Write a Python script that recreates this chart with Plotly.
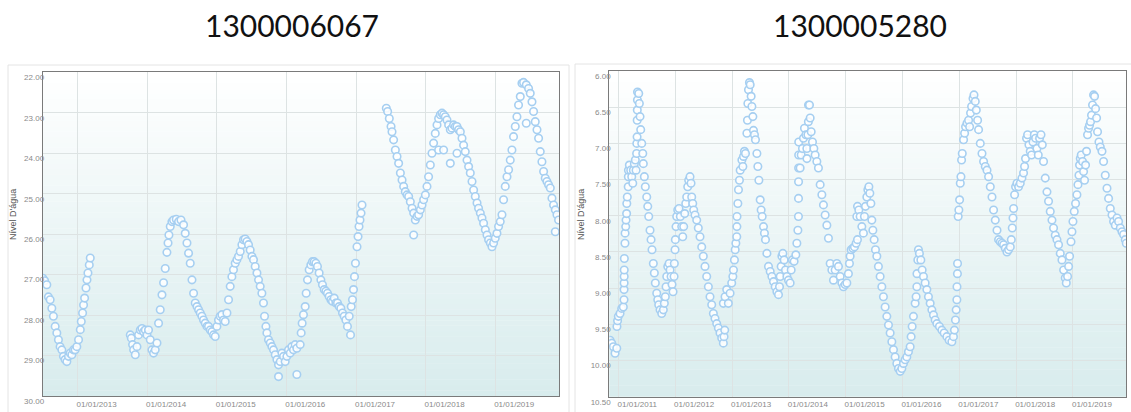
import numpy as np
import pandas as pd
import plotly.graph_objects as go

# ---------------- data (decimal years, water level) ----------------
title_left = "1300006067"
title_right = "1300005280"
y_title = "Nível D'água"

t_6067 = [
    2012.503, 2012.529, 2012.560, 2012.583, 2012.608, 2012.632, 2012.655, 2012.680, 2012.704, 2012.727,
    2012.751, 2012.776, 2012.799, 2012.823, 2012.848, 2012.871, 2012.895, 2012.920, 2012.943, 2012.967,
    2012.991, 2013.014, 2013.039, 2013.053, 2013.072, 2013.086, 2013.101, 2013.121, 2013.135, 2013.149,
    2013.168, 2013.182,
    2013.757, 2013.772, 2013.790, 2013.805, 2013.829, 2013.853, 2013.876, 2013.901, 2013.925, 2013.948,
    2013.973, 2013.997, 2014.020, 2014.045, 2014.069, 2014.092, 2014.116, 2014.141, 2014.164, 2014.188,
    2014.213, 2014.236, 2014.260, 2014.284, 2014.300, 2014.313, 2014.332, 2014.356, 2014.379, 2014.418,
    2014.451, 2014.486, 2014.523, 2014.547, 2014.572, 2014.595, 2014.619, 2014.644, 2014.667, 2014.691,
    2014.716, 2014.739, 2014.763, 2014.787, 2014.810, 2014.835, 2014.859, 2014.882, 2014.907, 2014.931,
    2014.954, 2014.978, 2015.003, 2015.026, 2015.050, 2015.075, 2015.098, 2015.122, 2015.147, 2015.170,
    2015.194, 2015.218, 2015.241, 2015.266, 2015.290, 2015.313, 2015.338, 2015.362, 2015.385, 2015.409,
    2015.434, 2015.457, 2015.481, 2015.506, 2015.529, 2015.553, 2015.578, 2015.601, 2015.625, 2015.649,
    2015.672, 2015.687, 2015.707, 2015.721, 2015.744, 2015.769, 2015.793, 2015.816, 2015.841, 2015.865,
    2015.888, 2015.912, 2015.937, 2015.960, 2015.984, 2016.009, 2016.032, 2016.056, 2016.080, 2016.103,
    2016.128, 2016.152, 2016.200, 2016.214, 2016.228, 2016.247, 2016.272, 2016.286, 2016.305, 2016.329,
    2016.353, 2016.376, 2016.401, 2016.425, 2016.448, 2016.472, 2016.497, 2016.520, 2016.545, 2016.569,
    2016.592, 2016.616, 2016.641, 2016.664, 2016.688, 2016.713, 2016.736, 2016.760, 2016.784, 2016.808,
    2016.832, 2016.856, 2016.879, 2016.904, 2016.923, 2016.933, 2016.951, 2016.966, 2016.980, 2016.994,
    2017.014, 2017.029, 2017.043, 2017.057, 2017.072, 2017.086,
    2017.435, 2017.454, 2017.478, 2017.503, 2017.517, 2017.540, 2017.565, 2017.589, 2017.612, 2017.637,
    2017.661, 2017.684, 2017.708, 2017.733, 2017.756, 2017.780, 2017.805, 2017.828, 2017.852, 2017.876,
    2017.899, 2017.924, 2017.948, 2017.971, 2017.996, 2018.020, 2018.043, 2018.068, 2018.092, 2018.115,
    2018.139, 2018.164, 2018.187, 2018.211, 2018.236, 2018.259, 2018.283, 2018.307, 2018.331, 2018.355,
    2018.379, 2018.402, 2018.427, 2018.451, 2018.474, 2018.499, 2018.523, 2018.546, 2018.570, 2018.595,
    2018.618, 2018.642, 2018.667, 2018.690, 2018.714, 2018.739, 2018.761, 2018.786, 2018.810, 2018.833,
    2018.858, 2018.882, 2018.905, 2018.930, 2018.954, 2018.977, 2019.001, 2019.026, 2019.049, 2019.073,
    2019.098, 2019.121, 2019.145, 2019.170, 2019.193, 2019.217, 2019.241, 2019.264, 2019.289, 2019.313,
    2019.336, 2019.361, 2019.385, 2019.408, 2019.447, 2019.480, 2019.504, 2019.529, 2019.552, 2019.576,
    2019.601, 2019.624, 2019.648, 2019.672, 2019.696, 2019.720, 2019.744, 2019.767, 2019.792, 2019.816,
    2019.839, 2019.864, 2019.888, 2019.911,
    2015.888, 2016.152, 2017.828, 2018.187, 2018.259, 2018.355, 2018.451, 2019.447, 2019.864,
]
v_6067 = [
    27.09, 27.15, 27.25, 27.55, 27.62, 27.83, 28.03, 28.28, 28.44, 28.61,
    28.78, 28.86, 29.02, 29.10, 29.15, 29.02, 28.94, 28.98, 28.86, 28.86,
    28.78, 28.61, 28.36, 28.16, 27.95, 27.75, 27.58, 27.33, 27.13, 26.96,
    26.76, 26.59,
    28.49, 28.57, 28.73, 28.86, 28.98, 28.78, 28.49, 28.37, 28.33, 28.41,
    28.37, 28.49, 28.37, 28.61, 28.86, 28.94, 28.86, 28.69, 28.20, 27.87,
    27.50, 27.20, 26.85, 26.45, 26.22, 26.02, 25.81, 25.69, 25.65, 25.63,
    25.69, 25.65, 25.77, 25.98, 26.22, 26.47, 26.72, 27.13, 27.46, 27.70,
    27.79, 27.87, 27.95, 28.03, 28.12, 28.20, 28.28, 28.28, 28.37, 28.41,
    28.49, 28.53, 28.28, 28.12, 28.03, 27.99, 28.12, 28.16, 27.95, 27.62,
    27.29, 27.05, 26.88, 26.72, 26.63, 26.55, 26.43, 26.26, 26.14, 26.12,
    26.18, 26.26, 26.39, 26.55, 26.63, 26.80, 26.96, 27.13, 27.29, 27.46,
    27.70, 28.03, 28.28, 28.44, 28.61, 28.69, 28.78, 28.86, 28.98, 29.10,
    29.23, 29.15, 28.94, 29.02, 29.15, 29.02, 28.86, 28.94, 28.78, 28.86,
    28.73, 28.82, 28.73, 28.44, 28.20, 27.99, 27.79, 27.46, 27.13, 26.88,
    26.76, 26.68, 26.68, 26.72, 26.80, 26.96, 27.13, 27.25, 27.37, 27.41,
    27.46, 27.54, 27.62, 27.66, 27.58, 27.70, 27.70, 27.79, 27.83, 27.95,
    28.03, 28.12, 28.28, 28.03, 28.49, 27.79, 27.62, 27.37, 27.05, 26.72,
    26.31, 26.06, 25.81, 25.65, 25.48, 25.28,
    22.89, 22.97, 23.14, 23.34, 23.47, 23.67, 23.92, 24.08, 24.25, 24.49,
    24.66, 24.82, 24.95, 25.03, 25.07, 25.20, 25.36, 25.48, 25.65, 25.56,
    25.52, 25.40, 25.28, 25.15, 25.03, 24.82, 24.58, 24.29, 24.00, 23.75,
    23.51, 23.30, 23.14, 23.05, 23.01, 23.05, 23.10, 23.18, 23.30, 23.42,
    23.38, 23.30, 23.34, 23.34, 23.42, 23.47, 23.63, 23.80, 23.96, 24.17,
    24.33, 24.49, 24.70, 24.91, 25.07, 25.23, 25.36, 25.48, 25.60, 25.73,
    25.89, 26.02, 26.14, 26.22, 26.31, 26.22, 26.10, 25.98, 25.81, 25.69,
    25.52, 25.15, 24.82, 24.58, 24.41, 24.17, 23.92, 23.59, 23.34, 23.10,
    22.81, 22.60, 22.27, 22.25, 22.31, 22.40, 22.52, 22.73, 22.97, 23.22,
    23.42, 23.63, 23.96, 24.21, 24.45, 24.62, 24.70, 24.78, 24.86, 25.11,
    25.28, 25.40, 25.52, 25.65,
    29.52, 29.47, 26.02, 23.92, 23.92, 24.25, 24.00, 23.26, 25.94,
]

t_5280 = [
    2010.854, 2010.884, 2010.912, 2010.942, 2010.972, 2010.975, 2010.986, 2011.000, 2011.030, 2011.060,
    2011.088, 2011.100, 2011.101, 2011.102, 2011.103, 2011.104, 2011.106, 2011.117, 2011.119, 2011.130,
    2011.136, 2011.146, 2011.149, 2011.158, 2011.174, 2011.176, 2011.178, 2011.194, 2011.218, 2011.236,
    2011.254, 2011.264, 2011.282, 2011.299, 2011.312, 2011.322, 2011.325, 2011.330, 2011.332, 2011.334,
    2011.336, 2011.338, 2011.359, 2011.370, 2011.382, 2011.394, 2011.412, 2011.430, 2011.440, 2011.458,
    2011.475, 2011.500, 2011.518, 2011.535, 2011.558, 2011.576, 2011.593, 2011.616, 2011.634, 2011.651,
    2011.676, 2011.694, 2011.711, 2011.734, 2011.764, 2011.792, 2011.810, 2011.827, 2011.840, 2011.852,
    2011.870, 2011.893, 2011.910, 2011.928, 2011.945, 2011.963, 2011.981, 2011.986, 2011.998, 2012.004,
    2012.016, 2012.028, 2012.046, 2012.069, 2012.092, 2012.116, 2012.134, 2012.151, 2012.169, 2012.187,
    2012.204, 2012.222, 2012.239, 2012.262, 2012.280, 2012.292, 2012.310, 2012.327, 2012.350, 2012.380,
    2012.408, 2012.438, 2012.468, 2012.496, 2012.526, 2012.556, 2012.585, 2012.614, 2012.644, 2012.673,
    2012.702, 2012.732, 2012.761, 2012.790, 2012.820, 2012.849, 2012.861, 2012.873,
    2012.849, 2012.879, 2012.908, 2012.937, 2012.967, 2012.996, 2013.014, 2013.025, 2013.042, 2013.055,
    2013.067, 2013.083, 2013.085, 2013.087, 2013.102, 2013.113, 2013.130, 2013.143, 2013.173, 2013.190,
    2013.201, 2013.218, 2013.236, 2013.261, 2013.271, 2013.278, 2013.289, 2013.306, 2013.319, 2013.336,
    2013.349, 2013.366, 2013.377, 2013.394, 2013.412, 2013.437, 2013.454, 2013.472, 2013.495, 2013.512,
    2013.530, 2013.553, 2013.570, 2013.588, 2013.613, 2013.641, 2013.671, 2013.701, 2013.729, 2013.759,
    2013.789, 2013.817, 2013.835, 2013.847, 2013.864, 2013.877, 2013.894, 2013.917, 2013.940, 2013.965,
    2013.993, 2014.023, 2014.041, 2014.063, 2014.093, 2014.123, 2014.141, 2014.159, 2014.169, 2014.170,
    2014.171, 2014.172, 2014.173, 2014.174, 2014.199, 2014.217, 2014.240, 2014.257, 2014.275, 2014.299,
    2014.317, 2014.318, 2014.335, 2014.344, 2014.346, 2014.363, 2014.375, 2014.393, 2014.416, 2014.440,
    2014.463, 2014.493, 2014.521, 2014.551, 2014.581, 2014.609, 2014.639, 2014.669, 2014.697, 2014.727,
    2014.757, 2014.785, 2014.815, 2014.845, 2014.873, 2014.903, 2014.933, 2014.961, 2014.991, 2015.021,
    2015.049, 2015.067, 2015.079, 2015.097, 2015.127, 2015.155, 2015.185, 2015.208, 2015.197, 2015.209,
    2015.232, 2015.255, 2015.285, 2015.313, 2015.331, 2015.349, 2015.373, 2015.391, 2015.409, 2015.426,
    2015.444, 2015.461, 2015.479, 2015.502, 2015.525, 2015.549, 2015.577, 2015.607, 2015.637, 2015.665,
    2015.695, 2015.725, 2015.754, 2015.783, 2015.813, 2015.842, 2015.871, 2015.901, 2015.930, 2015.960,
    2015.989, 2016.018, 2016.048, 2016.077, 2016.106, 2016.136, 2016.153, 2016.171, 2016.194, 2016.224,
    2016.241, 2016.254, 2016.256, 2016.271, 2016.282, 2016.299, 2016.324, 2016.347, 2016.370, 2016.400,
    2016.430, 2016.458, 2016.488, 2016.518, 2016.546, 2016.576, 2016.606, 2016.651, 2016.694, 2016.734,
    2016.782, 2016.822, 2016.870, 2016.898, 2016.915, 2016.933, 2016.946, 2016.958, 2016.960, 2016.968,
    2016.970, 2016.981, 2016.993, 2017.004, 2017.016, 2017.028, 2017.039, 2017.051, 2017.074, 2017.092,
    2017.109, 2017.134, 2017.162, 2017.180, 2017.197, 2017.215, 2017.240, 2017.257, 2017.280, 2017.298,
    2017.321, 2017.338, 2017.368, 2017.398, 2017.426, 2017.456, 2017.486, 2017.514, 2017.544, 2017.574,
    2017.602, 2017.632, 2017.662, 2017.690, 2017.720, 2017.750, 2017.778, 2017.808, 2017.838, 2017.866,
    2017.896, 2017.914, 2017.931, 2017.944, 2017.954, 2017.972, 2017.989, 2018.014, 2018.042, 2018.072,
    2018.102, 2018.130, 2018.148, 2018.165, 2018.183, 2018.201, 2018.225, 2018.248, 2018.271, 2018.296,
    2018.319, 2018.342, 2018.366, 2018.389, 2018.412, 2018.437, 2018.460, 2018.482, 2018.512, 2018.542,
    2018.570, 2018.600, 2018.630, 2018.658, 2018.688, 2018.718, 2018.746, 2018.776, 2018.806, 2018.835,
    2018.864, 2018.882, 2018.905, 2018.923, 2018.940, 2018.965, 2018.982, 2019.000, 2019.023, 2019.046,
    2019.070, 2019.088, 2019.106, 2019.116, 2019.129, 2019.146, 2019.169, 2019.187, 2019.204, 2019.222,
    2019.239, 2019.257, 2019.275, 2019.292, 2019.310, 2019.327, 2019.345, 2019.363, 2019.380, 2019.398,
    2019.416, 2019.433, 2019.458, 2019.481, 2019.511, 2019.539, 2019.569, 2019.599, 2019.627, 2019.657,
    2019.687, 2019.715, 2019.745, 2019.775, 2019.803, 2019.833, 2019.863, 2019.891, 2019.921, 2019.938,
]
v_5280 = [
    9.72, 9.76, 9.81, 9.90, 9.83, 9.53, 9.45, 9.39, 9.35, 9.28,
    9.26, 9.16, 9.02, 8.93, 8.84, 8.75, 8.59, 8.38, 8.24, 8.15,
    8.06, 7.97, 7.83, 7.74, 7.60, 7.46, 7.37, 7.30, 7.37, 7.46,
    7.55, 7.37, 7.28, 7.23, 7.37, 7.14, 7.00, 6.91, 6.68, 6.54,
    6.40, 6.29, 6.31, 6.45, 6.63, 6.81, 7.00, 7.14, 7.28, 7.46,
    7.60, 7.74, 7.87, 8.01, 8.20, 8.33, 8.47, 8.66, 8.79, 8.93,
    9.07, 9.16, 9.23, 9.30, 9.35, 9.30, 9.21, 9.12, 8.98, 8.84,
    8.70, 8.66, 8.75, 8.84, 8.95, 9.05, 8.84, 8.66, 8.47, 8.33,
    8.15, 8.01, 7.92, 7.90, 8.01, 8.15, 8.29, 8.15, 7.97, 7.83,
    7.74, 7.60, 7.51, 7.46, 7.55, 7.74, 7.83, 7.92, 7.99, 8.06,
    8.17, 8.29, 8.43, 8.56, 8.70, 8.84, 8.98, 9.12, 9.23, 9.35,
    9.42, 9.49, 9.55, 9.62, 9.69, 9.76, 9.67, 9.58,
    9.21, 9.12, 9.02, 9.21, 9.07, 8.93, 8.84, 8.75, 8.61, 8.47,
    8.38, 8.29, 8.15, 8.01, 7.83, 7.64, 7.51, 7.37, 7.23, 7.32,
    7.18, 7.11, 7.14, 6.86, 6.68, 6.45, 6.26, 6.16, 6.19, 6.35,
    6.49, 6.63, 6.82, 6.88, 6.95, 7.14, 7.32, 7.51, 7.78, 7.92,
    8.01, 8.15, 8.24, 8.33, 8.52, 8.70, 8.77, 8.84, 8.91, 8.98,
    9.05, 9.09, 8.98, 8.84, 8.70, 8.56, 8.52, 8.61, 8.75, 8.84,
    8.89, 8.93, 8.75, 8.61, 8.63, 8.54, 8.38, 8.20, 8.01, 7.76,
    7.53, 7.34, 7.16, 6.98, 7.34, 7.16, 7.07, 6.93, 6.79, 6.88,
    7.07, 7.21, 6.88, 6.70, 6.47, 6.47, 6.65, 6.84, 6.98, 7.07,
    7.16, 7.25, 7.34, 7.57, 7.71, 7.85, 7.99, 8.13, 8.31, 8.66,
    8.75, 8.89, 8.75, 8.66, 8.70, 8.84, 8.93, 8.98, 8.95, 8.93,
    8.80, 8.66, 8.56, 8.47, 8.45, 8.43, 8.38, 8.33, 8.01, 7.87,
    7.92, 8.01, 8.15, 8.24, 8.01, 7.87, 7.74, 7.64, 7.60, 7.69,
    7.83, 8.06, 8.20, 8.33, 8.47, 8.56, 8.70, 8.84, 8.98, 9.12,
    9.26, 9.39, 9.51, 9.62, 9.74, 9.85, 9.95, 10.04, 10.11, 10.15,
    10.11, 10.04, 9.99, 9.95, 9.88, 9.81, 9.67, 9.53, 9.39, 9.21,
    9.12, 8.98, 8.80, 8.61, 8.47, 8.52, 8.61, 8.75, 8.84, 8.93,
    9.02, 9.12, 9.21, 9.30, 9.37, 9.44, 9.49, 9.53, 9.58, 9.62,
    9.67, 9.72, 9.74, 9.67, 9.58, 9.44, 9.30, 9.16, 8.98, 8.80,
    8.66, 8.01, 7.92, 7.78, 7.55, 7.46, 7.23, 7.14, 6.95, 6.86,
    6.77, 6.72, 6.68, 6.77, 6.58, 6.49, 6.38, 6.33, 6.42, 6.54,
    6.68, 6.81, 7.00, 7.14, 7.25, 7.32, 7.37, 7.46, 7.60, 7.74,
    7.92, 8.06, 8.20, 8.33, 8.36, 8.38, 8.40, 8.45, 8.50, 8.47,
    8.43, 8.33, 8.17, 8.03, 7.90, 7.71, 7.60, 7.55, 7.60, 7.55,
    7.48, 7.41, 7.32, 7.21, 6.93, 6.88, 7.02, 7.11, 7.16, 6.98,
    6.88, 6.93, 7.07, 7.16, 6.93, 6.88, 7.02, 7.25, 7.48, 7.67,
    7.80, 7.94, 8.06, 8.17, 8.27, 8.33, 8.40, 8.52, 8.61, 8.75,
    8.86, 8.93, 8.84, 8.70, 8.56, 8.36, 8.22, 8.08, 7.94, 7.83,
    7.71, 7.57, 7.44, 7.30, 7.21, 7.16, 7.25, 7.39, 7.51, 7.30,
    7.11, 6.88, 6.79, 6.75, 6.70, 6.61, 6.47, 6.33, 6.35, 6.52,
    6.65, 6.84, 6.98, 7.05, 7.11, 7.25, 7.44, 7.62, 7.76, 7.90,
    7.99, 8.08, 8.13, 8.03, 8.08, 8.17, 8.22, 8.26, 8.33, 8.38,
]

years_left = [2013, 2014, 2015, 2016, 2017, 2018, 2019]
years_right = [2011, 2012, 2013, 2014, 2015, 2016, 2017, 2018, 2019]
yticks_left = [22, 23, 24, 25, 26, 27, 28, 29, 30]
yticks_right = [6.0, 6.5, 7.0, 7.5, 8.0, 8.5, 9.0, 9.5, 10.0, 10.5]


def to_dates(t):
    out = []
    for v in t:
        y = int(np.floor(v))
        out.append(pd.Timestamp(year=y, month=1, day=1) + pd.Timedelta(days=(v - y) * 365.25))
    return out


W, H = 1131, 412
marker = dict(symbol="circle", size=7.5, color="rgba(255,255,255,0.85)",
              line=dict(color="#a6cff1", width=1.6))

fig = go.Figure()
fig.add_trace(go.Scatter(x=to_dates(t_6067), y=v_6067, mode="markers", marker=marker,
                         xaxis="x", yaxis="y", showlegend=False, hoverinfo="skip"))
fig.add_trace(go.Scatter(x=to_dates(t_5280), y=v_5280, mode="markers", marker=marker,
                         xaxis="x2", yaxis="y2", showlegend=False, hoverinfo="skip"))

# plot-area geometry (pixels)
L1, R1, T1, B1 = 42.7, 559.0, 72.3, 396.0
L2, R2, T2, B2 = 609.3, 1126.0, 71.0, 396.7

tickfont = dict(family="Liberation Sans, Arial, sans-serif", size=8, color="#8a8a8a")
grid = "#dde3e3"
axline = "#7a7a7a"


def xaxis(dom, yrs, rng, anchor):
    return dict(domain=dom, type="date", range=rng, anchor=anchor, automargin=False,
                tickvals=[f"{y}-01-01" for y in yrs], ticktext=[f"01/01/{y}" for y in yrs],
                showgrid=True, gridcolor=grid, gridwidth=1, showline=True, linecolor=axline,
                linewidth=1, mirror=True, ticks="", tickfont=tickfont, ticklabelshift=19,
                zeroline=False, fixedrange=True)


def yaxis(dom, vals, fmt, rng, anchor):
    return dict(domain=dom, range=rng, anchor=anchor, automargin=False, tickvals=vals,
                ticktext=[fmt.format(v) for v in vals], showgrid=True, gridcolor=grid,
                gridwidth=1, showline=True, linecolor=axline, linewidth=1, mirror=True,
                ticks="", tickfont=tickfont, ticklabelshift=-5, ticklabelstandoff=-4,
                zeroline=False, fixedrange=True)


fig.update_layout(
    width=W, height=H, margin=dict(l=0, r=0, t=0, b=0, autoexpand=False),
    paper_bgcolor="white", plot_bgcolor="white",
    xaxis=xaxis([L1 / W, R1 / W], years_left, ["2012-07-02", "2019-12-02"], "y"),
    yaxis=yaxis([1 - B1 / H, 1 - T1 / H], yticks_left, "{:.2f}", [30, 22], "x"),
    xaxis2=xaxis([L2 / W, R2 / W], years_right, ["2010-11-04", "2019-12-08"], "y2"),
    yaxis2=yaxis([1 - B2 / H, 1 - T2 / H], yticks_right, "{:.2f}", [10.5, 6.0], "x2"),
)

# gradient background bands
shapes = []
N = 60
top = np.array([255, 255, 255])
bot = np.array([216, 236, 237])
for xr, yr in (("x domain", "y domain"), ("x2 domain", "y2 domain")):
    for i in range(N):
        y0, y1 = i / N, (i + 1) / N
        f = 1 - (y0 + y1) / 2
        c = top + (bot - top) * f
        shapes.append(dict(type="rect", xref=xr, yref=yr, x0=0, x1=1, y0=y0, y1=y1 + 0.001,
                           fillcolor=f"rgb({c[0]:.0f},{c[1]:.0f},{c[2]:.0f})",
                           line=dict(width=0), layer="below"))
# outer panel frames
shapes.append(dict(type="rect", xref="paper", yref="paper", x0=8 / W, x1=569 / W, y0=-0.01,
                   y1=1 - 65 / H, line=dict(color="#e4e4e4", width=1), layer="below"))
shapes.append(dict(type="rect", xref="paper", yref="paper", x0=575 / W, x1=1.01, y0=-0.01,
                   y1=1 - 64 / H, line=dict(color="#e4e4e4", width=1), layer="below"))
fig.update_layout(shapes=shapes)

ann = [
    dict(text=title_left, x=292 / W, y=1 - 25 / H, xref="paper", yref="paper", showarrow=False,
         font=dict(family="Lato, sans-serif", size=30, color="#111111"), xanchor="center", yanchor="middle"),
    dict(text=title_right, x=860 / W, y=1 - 25 / H, xref="paper", yref="paper", showarrow=False,
         font=dict(family="Lato, sans-serif", size=30, color="#111111"), xanchor="center", yanchor="middle"),
    dict(text=y_title, x=13 / W, y=1 - 215 / H, xref="paper", yref="paper", showarrow=False,
         textangle=-90, font=dict(family="Liberation Sans, Arial, sans-serif", size=9, color="#555555"),
         xanchor="center", yanchor="middle"),
    dict(text=y_title, x=581 / W, y=1 - 215 / H, xref="paper", yref="paper", showarrow=False,
         textangle=-90, font=dict(family="Liberation Sans, Arial, sans-serif", size=9, color="#555555"),
         xanchor="center", yanchor="middle"),
]
fig.update_layout(annotations=ann)

fig.write_html("out.html", config={"displayModeBar": False},
               post_script="document.body.style.margin='0';document.body.style.padding='0';"
                           "document.body.style.overflow='hidden';")
